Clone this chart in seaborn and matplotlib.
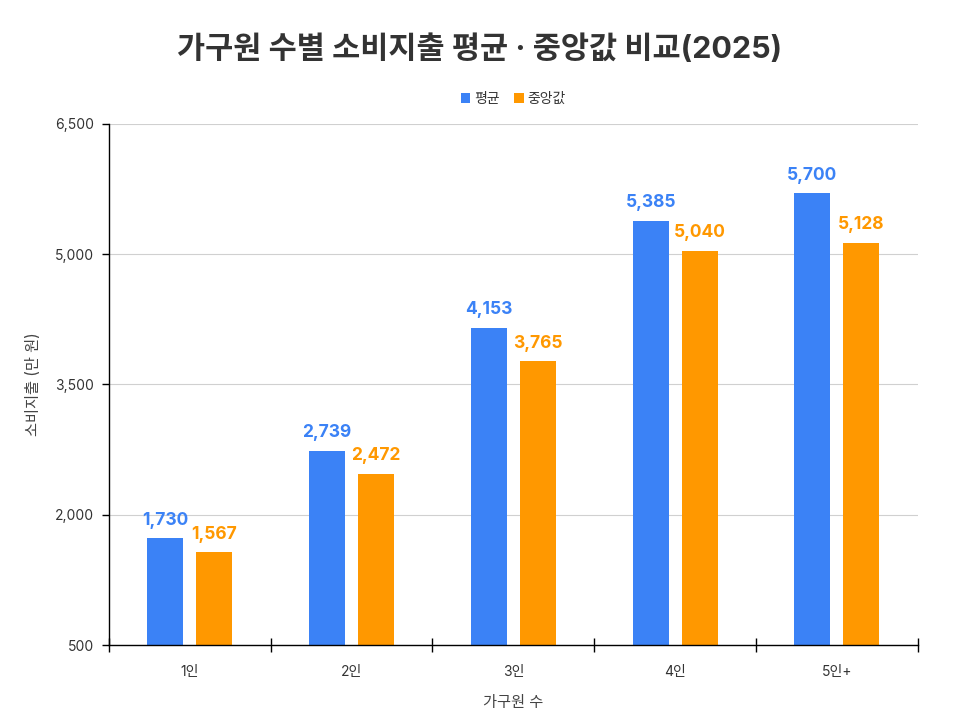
import matplotlib
matplotlib.use("Agg")
import matplotlib.pyplot as plt
import seaborn as sns
import pandas as pd
import numpy as np

categories = ["1인", "2인", "3인", "4인", "5인+"]
mean_vals = [1730, 2739, 4153, 5385, 5700]
median_vals = [1567, 2472, 3765, 5040, 5128]
series_names = ["평균", "중앙값"]
colors = ["#3B82F6", "#FF9800"]
yticks = [500, 2000, 3500, 5000, 6500]

df = pd.DataFrame({
    "cat": categories * 2,
    "val": mean_vals + median_vals,
    "series": [series_names[0]] * len(categories) + [series_names[1]] * len(categories),
})

sns.set_theme(style="white")
plt.rcParams["font.family"] = ["Inter", "Noto Sans CJK KR", "DejaVu Sans"]

fig = plt.figure(figsize=(9.6, 7.2), dpi=100)
ax = fig.add_axes([0.1135, 0.104, 0.8425, 0.724])

sns.barplot(data=df, x="cat", y="val", hue="series", palette=colors,
            width=0.605, gap=0.266, ax=ax, legend=True, saturation=1,
            edgecolor="none", linewidth=0)

ax.set_ylim(500, 6500)
ax.set_xlim(-0.5, 4.5)
ax.set_yticks(yticks)
ax.set_yticklabels([f"{v:,}" for v in yticks], fontsize=10, color="#333333")
ax.yaxis.grid(True, color="#d0d0d0", linewidth=0.8)
ax.set_axisbelow(True)

for s in ["top", "right"]:
    ax.spines[s].set_visible(False)
for s in ["left", "bottom"]:
    ax.spines[s].set_color("black")
    ax.spines[s].set_linewidth(1.0)

ax.tick_params(axis="y", which="major", direction="out", length=5, width=1, color="black", left=True, pad=6)
ax.tick_params(axis="x", which="major", length=0, pad=14, labelsize=10, labelcolor="#333333")
ax.set_xticks(np.arange(-0.5, 5.0, 1.0), minor=True)
ax.tick_params(axis="x", which="minor", direction="inout", length=10, width=1, color="black", bottom=True)

ax.set_xlabel("가구원 수", fontsize=11, color="#444444", labelpad=12)
ax.set_ylabel("소비지출 (만 원)", fontsize=11, color="#444444", labelpad=10)

for container, col in zip(ax.containers, colors):
    ax.bar_label(container, labels=[f"{int(v):,}" for v in container.datavalues],
                 padding=7, color=col, fontsize=12.5, fontweight="bold")

leg = ax.legend(loc="lower center", bbox_to_anchor=(0.5, 1.01), ncol=2, frameon=False,
                fontsize=10, handlelength=0.7, handleheight=0.7, handletextpad=0.3,
                columnspacing=1.0)
for t in leg.get_texts():
    t.set_color("#333333")

fig.suptitle("가구원 수별 소비지출 평균 · 중앙값 비교(2025)", x=0.5, y=0.952,
             fontsize=22, fontweight="bold", color="#333333")

fig.savefig("out.png", dpi=100)
